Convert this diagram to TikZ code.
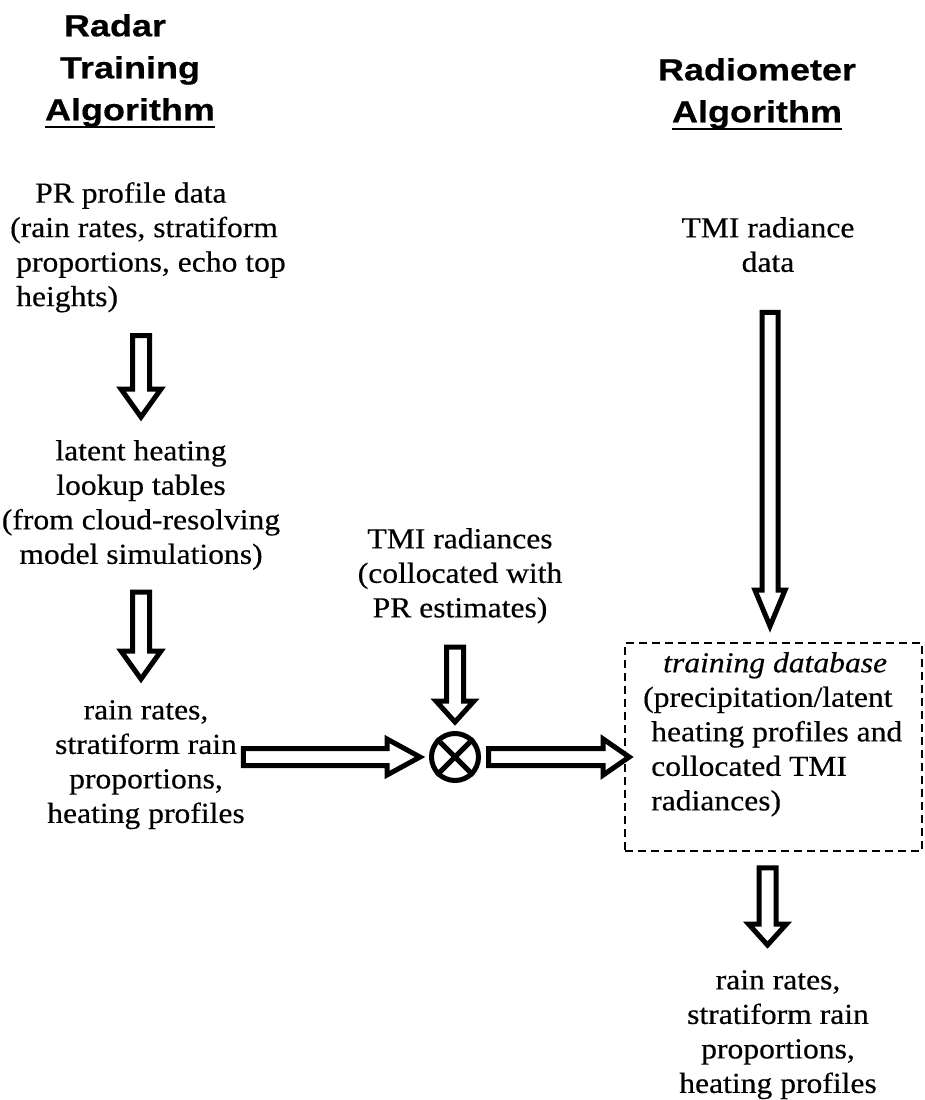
\documentclass[tikz,border=0pt]{standalone}
\usepackage{fontspec}
\setmainfont[FakeStretch=1.09, FakeBold=0.4]{Liberation Serif}
\setsansfont[FakeStretch=1.18, FakeBold=0.5]{Liberation Sans}
\usetikzlibrary{calc}
\newcommand\bodyfnt{\fontsize{29}{34.5}\selectfont}
\newcommand\headfnt{\fontsize{30.5}{42}\selectfont\sffamily\bfseries}
\newsavebox\ulbox
\newcommand\ulword[1]{\sbox{\ulbox}{#1}\rlap{\rule[-8pt]{\wd\ulbox}{2.5pt}}\usebox{\ulbox}}
\tikzset{
  ashaft/.store in=\ashaft, ahead/.store in=\ahead, alen/.store in=\alen,
  ashaft=8.5pt, ahead=20pt, alen=28pt,
  block/.style={draw, line width=5pt, line join=miter, fill=white},
  downblock/.style={block, to path={let \p1=(\tikztostart), \p2=(\tikztotarget) in
    (\x1-\ashaft,\y1) -- (\x1-\ashaft,\y2+\alen) -- (\x1-\ahead,\y2+\alen) -- (\x1,\y2)
    -- (\x1+\ahead,\y2+\alen) -- (\x1+\ashaft,\y2+\alen) -- (\x1+\ashaft,\y1) -- cycle}},
  rightblock/.style={block, to path={let \p1=(\tikztostart), \p2=(\tikztotarget) in
    (\x1,\y1-\ashaft) -- (\x2-\alen,\y1-\ashaft) -- (\x2-\alen,\y1-\ahead) -- (\x2,\y1)
    -- (\x2-\alen,\y1+\ahead) -- (\x2-\alen,\y1+\ashaft) -- (\x1,\y1+\ashaft) -- cycle}}
}
\begin{document}
\begin{tikzpicture}[x=1pt, y=-1pt,
    txt/.style={font=\bodyfnt, align=center, inner sep=0pt},
    heading/.style={font=\headfnt, align=center, inner sep=0pt},
    dbox/.style={draw, line width=1.6pt, dash pattern=on 8pt off 5pt},
    mult/.style={circle, draw, line width=5pt, minimum size=47pt, inner sep=0pt}]
  \useasboundingbox (0,0) rectangle (925,1100);
  % headings
  \node[heading, anchor=north] (radar) at (130,14) {Radar\kern30pt\\Training\\\ulword{Algorithm}};
  \node[heading, anchor=north] (radio) at (757,58) {Radiometer\\\ulword{Algorithm}};
  % radar training column
  \node[txt, align=left, anchor=north west] (pr) at (10,182)
    {\hspace*{25pt}PR profile data\\(rain rates, stratiform\\\hspace*{6pt}proportions, echo top\\\hspace*{6pt}heights)};
  \node[txt, anchor=north] (lut) at (141,440)
    {latent heating\\lookup tables\\(from cloud-resolving\\model simulations)};
  \node[txt, anchor=north] (rr) at (146,700)
    {rain rates,\\stratiform rain\\proportions,\\heating profiles};
  \node[txt, anchor=north] (tmir) at (460,528)
    {TMI radiances\\(collocated with\\PR estimates)};
  \node[mult] (ox) at (455,757) {};
  \draw[line width=5pt] (ox.45) -- (ox.225) (ox.135) -- (ox.315);
  % radiometer column
  \node[txt, anchor=north] (tmid) at (768,217) {TMI radiance\\data};
  \node[dbox, minimum width=297pt, minimum height=208pt] (box) at (773.5,747) {};
  \node[txt, align=left, anchor=north west] (db) at (643,652)
    {\hspace*{20pt}\textit{training database}\\(precipitation/latent\\\hspace*{8pt}heating profiles and\\\hspace*{8pt}collocated TMI\\\hspace*{8pt}radiances)};
  \node[txt, anchor=north] (rr2) at (778,970)
    {rain rates,\\stratiform rain\\proportions,\\heating profiles};
  % arrow ends
  \coordinate (a1s) at ($(pr.south -| lut.north)+(0,23)$);
  \coordinate (a1e) at ($(lut.north)+(0,-23)$);
  \coordinate (a2s) at ($(lut.south)+(0,22)$);
  \coordinate (a2e) at ($(rr.north -| lut.south)+(0,-21)$);
  \coordinate (a3s) at ($(rr.east |- ox.west)+(-1.5,0)$);
  \coordinate (a3e) at ($(ox.west)+(-9,0)$);
  \coordinate (a4s) at ($(ox.east)+(7.5,0)$);
  \coordinate (a4e) at ($(ox.east -| box.west)+(5,0)$);
  \coordinate (a5s) at ($(tmir.south -| ox.north)+(0,23.5)$);
  \coordinate (a5e) at ($(ox.north)+(0,-9)$);
  \coordinate (a6s) at ($(tmid.south)+(2,40)$);
  \coordinate (a6e) at ($(a6s |- box.north)+(0,-16)$);
  \coordinate (a7s) at ($(box.south)+(-6,16)$);
  \coordinate (a7e) at ($(a7s |- rr2.north)+(0,-25)$);
  % block arrows
  \draw[downblock] (a1s) to (a1e);
  \draw[downblock] (a2s) to (a2e);
  \draw[rightblock, ahead=18pt, alen=33pt] (a3s) to (a3e);
  \draw[rightblock, ahead=18pt, alen=26pt] (a4s) to (a4e);
  \draw[downblock, ahead=19pt, alen=21pt] (a5s) to (a5e);
  \draw[downblock, ashaft=8pt, ahead=15pt, alen=36pt] (a6s) to (a6e);
  \draw[downblock, ahead=19pt, alen=21pt] (a7s) to (a7e);
\end{tikzpicture}
\end{document}
